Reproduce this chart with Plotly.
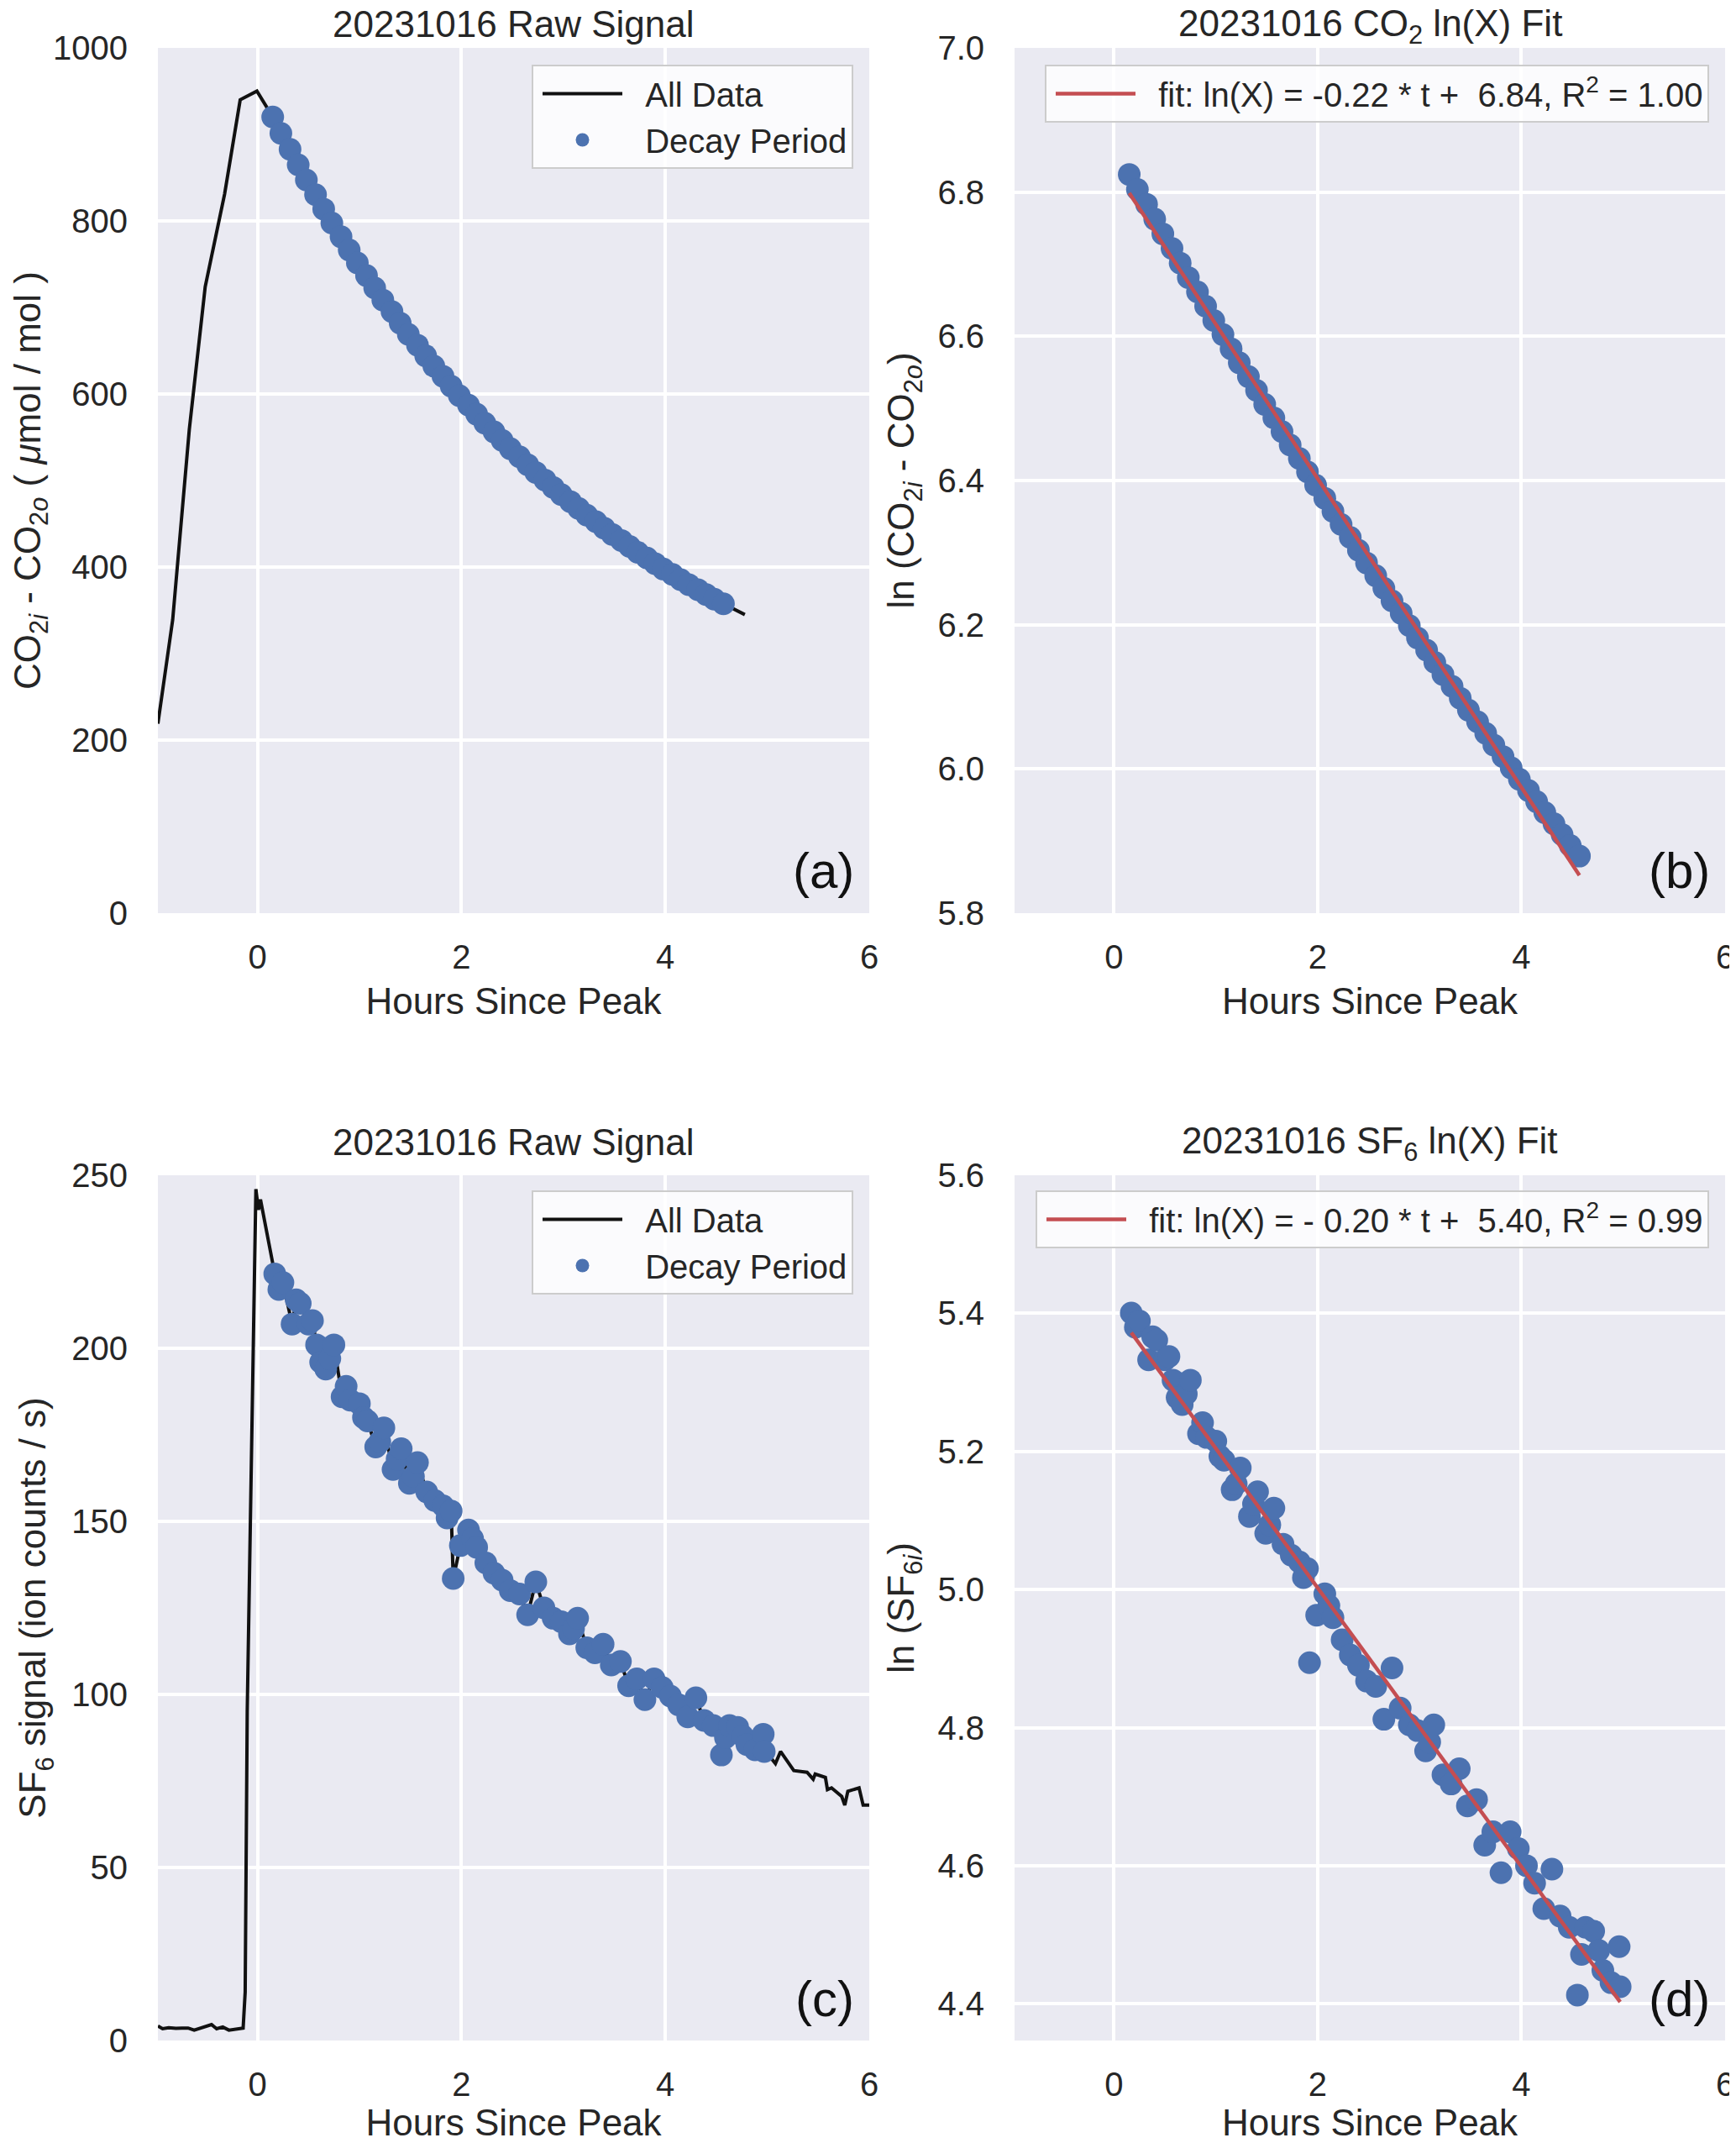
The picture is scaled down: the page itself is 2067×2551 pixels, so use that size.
import numpy as np
import plotly.graph_objects as go

# ---- CO2 (panels a, b) ----
co2_pre_t = [-0.976, -0.831, -0.668, -0.512, -0.322, -0.169, -0.005, 0.07]
co2_pre = [219, 339, 559, 724, 831, 940, 950, 936]

co2_decay_t = [0.15, 0.23, 0.32, 0.40, 0.48, 0.57, 0.65, 0.73, 0.82, 0.90,
               0.98, 1.07, 1.15, 1.23, 1.32, 1.40, 1.48, 1.57, 1.65, 1.73,
               1.82, 1.90, 1.98, 2.07, 2.15, 2.23, 2.32, 2.40, 2.48, 2.57,
               2.65, 2.73, 2.82, 2.90, 2.98, 3.07, 3.15, 3.23, 3.32, 3.40,
               3.48, 3.57, 3.65, 3.73, 3.82, 3.90, 3.98, 4.07, 4.15, 4.23,
               4.32, 4.40, 4.48, 4.57]
co2_decay = [920.1, 901.2, 882.8, 864.8, 847.3, 830.3, 813.7, 797.5, 781.7, 766.4,
             751.4, 736.8, 722.5, 708.6, 695.1, 681.9, 668.9, 656.4, 644.1, 632.2,
             620.5, 609.1, 598.0, 587.2, 576.6, 566.3, 556.2, 546.4, 536.8, 527.4,
             518.3, 509.3, 500.6, 492.1, 483.8, 475.6, 467.7, 459.9, 452.4, 445.0,
             437.7, 430.7, 423.8, 417.0, 410.4, 404.0, 397.7, 391.5, 385.5, 379.7,
             373.9, 368.3, 362.8, 357.5]

co2_tail_t = [4.65, 4.78]
co2_tail = [352, 345]

# ---- SF6 (panels c, d) ----
sf6_pre_t = [-0.976, -0.93, -0.87, -0.80, -0.74, -0.68, -0.62, -0.56, -0.50, -0.45,
             -0.40, -0.34, -0.28, -0.22, -0.17, -0.14, -0.12, -0.10, -0.015, 0.01, 0.03]
sf6_pre = [4.2, 3.4, 3.7, 3.5, 3.6, 3.6, 3.0, 3.5, 4.2, 4.6,
           3.4, 3.9, 3.0, 3.3, 3.5, 3.6, 14, 95, 246, 240, 243]

sf6_decay_t = [0.17, 0.21, 0.25, 0.34, 0.38, 0.42, 0.50, 0.54, 0.58, 0.62,
               0.67, 0.71, 0.75, 0.83, 0.87, 0.91, 1.00, 1.04, 1.08, 1.16,
               1.20, 1.24, 1.33, 1.37, 1.41, 1.49, 1.53, 1.57, 1.66, 1.74,
               1.82, 1.86, 1.90, 1.92, 1.99, 2.07, 2.11, 2.15, 2.24, 2.32,
               2.40, 2.48, 2.57, 2.65, 2.73, 2.81, 2.90, 2.98, 3.06, 3.10,
               3.14, 3.23, 3.31, 3.39, 3.47, 3.56, 3.64, 3.72, 3.80, 3.89,
               3.97, 4.05, 4.13, 4.22, 4.30, 4.38, 4.47, 4.55, 4.59, 4.63,
               4.71, 4.76, 4.80, 4.88, 4.96, 4.97]
sf6_decay = [221.5, 217, 219, 207, 214, 213, 207, 208, 201, 196,
             194, 197, 201, 186, 189, 185, 184, 180, 179, 171.5,
             173, 177, 165, 168, 171, 161, 163, 167, 158.5, 156,
             154.5, 151, 153, 133.5, 143, 147.5, 145, 142.5, 138, 135,
             133, 130, 129, 123, 132.5, 125, 122, 121, 117.5, 119,
             122, 113.5, 112, 114.5, 108.5, 109.5, 102.5, 104.5, 98.5, 104.5,
             102, 99.5, 97, 93.5, 99, 92.5, 91, 82.5, 87.5, 91,
             90.5, 88, 85.5, 84, 88.5, 83.5]

sf6_tail_t = [5.04, 5.08, 5.13, 5.26, 5.39, 5.45, 5.47, 5.57, 5.59, 5.63,
              5.73, 5.76, 5.79, 5.90, 5.94, 6.0]
sf6_tail = [81.5, 80, 83.5, 78, 77.5, 75.5, 77, 76, 72.5, 73,
            70.5, 68, 72, 73, 68, 68]

BLUE = "#4C72B0"
RED = "#C44E52"
INK = "#262626"
FONT = "Liberation Sans, Arial, sans-serif"
MS = 27  # marker size
SP = "\u00a0\u00a0"  # gap between legend symbol and text

fig = go.Figure()

# (a) raw CO2
fig.add_trace(go.Scatter(x=co2_pre_t + co2_decay_t + co2_tail_t,
                         y=co2_pre + co2_decay + co2_tail,
                         mode="lines", line=dict(color="#111111", width=4),
                         name=SP + "All Data", xaxis="x", yaxis="y", legend="legend"))
fig.add_trace(go.Scatter(x=co2_decay_t, y=co2_decay, mode="markers",
                         marker=dict(color=BLUE, size=MS),
                         name=SP + "Decay Period", xaxis="x", yaxis="y", legend="legend"))

# (b) ln CO2 fit
ln_co2 = np.log(co2_decay)
m, b = np.polyfit(co2_decay_t, ln_co2, 1)
fx = np.array([co2_decay_t[0], co2_decay_t[-1]])
fig.add_trace(go.Scatter(x=co2_decay_t, y=ln_co2, mode="markers",
                         marker=dict(color=BLUE, size=MS), showlegend=False,
                         xaxis="x2", yaxis="y2"))
fig.add_trace(go.Scatter(x=fx, y=m * fx + b, mode="lines",
                         line=dict(color=RED, width=4.5),
                         name=SP + "fit: ln(X) = -0.22 * t +\u00a0\u00a06.84, R<sup>2</sup> = 1.00",
                         xaxis="x2", yaxis="y2", legend="legend2"))

# (c) raw SF6
fig.add_trace(go.Scatter(x=sf6_pre_t + sf6_decay_t + sf6_tail_t,
                         y=sf6_pre + sf6_decay + sf6_tail,
                         mode="lines", line=dict(color="#111111", width=4),
                         name=SP + "All Data", xaxis="x3", yaxis="y3", legend="legend3"))
fig.add_trace(go.Scatter(x=sf6_decay_t, y=sf6_decay, mode="markers",
                         marker=dict(color=BLUE, size=MS),
                         name=SP + "Decay Period", xaxis="x3", yaxis="y3", legend="legend3"))

# (d) ln SF6 fit
ln_sf6 = np.log(sf6_decay)
m2, b2 = np.polyfit(sf6_decay_t, ln_sf6, 1)
fx2 = np.array([sf6_decay_t[0], sf6_decay_t[-1]])
fig.add_trace(go.Scatter(x=sf6_decay_t, y=ln_sf6, mode="markers",
                         marker=dict(color=BLUE, size=MS), showlegend=False,
                         xaxis="x4", yaxis="y4"))
fig.add_trace(go.Scatter(x=fx2, y=m2 * fx2 + b2, mode="lines",
                         line=dict(color=RED, width=4.5),
                         name=SP + "fit: ln(X) = - 0.20 * t +\u00a0\u00a05.40, R<sup>2</sup> = 0.99",
                         xaxis="x4", yaxis="y4", legend="legend4"))

ax = dict(showgrid=True, gridcolor="white", gridwidth=3.5, zeroline=False,
          showline=False, ticks="", tickfont=dict(size=40, color=INK),
          automargin=False, title_font=dict(size=44, color=INK))

# page has an 8px body margin, so the figure is 16px smaller and shifted
W, H = 2059, 2543
xl = [180 / W, 1027 / W]
xr = [1200 / W, 2046 / W]
yt = [1 - 1079 / H, 1 - 49 / H]
yb = [1 - 2421 / H, 1 - 1391 / H]

xkw = dict(ax, range=[-0.976, 6], tick0=0, dtick=2, ticklabelstandoff=25,
           title=dict(text="Hours Since Peak", standoff=16))
ykw = dict(ax, ticklabelstandoff=35)

ytitle_a = "CO<sub>2<i>i</i></sub> - CO<sub>2<i>o</i></sub> ( <i>\u03bc</i>mol / mol )"
ytitle_b = "ln (CO<sub>2<i>i</i></sub> - CO<sub>2<i>o</i></sub>)"
ytitle_c = "SF<sub>6</sub> signal (ion counts / s)"
ytitle_d = "ln (SF<sub>6<i>i</i></sub>)"

fig.update_layout(
    width=W, height=H,
    margin=dict(l=0, r=0, t=0, b=0),
    paper_bgcolor="white", plot_bgcolor="#EAEAF2",
    font=dict(family=FONT, color=INK, size=40),
    xaxis=dict(xkw, domain=xl, anchor="y"),
    yaxis=dict(ykw, domain=yt, anchor="x", range=[0, 1000], dtick=200,
               title=dict(text=ytitle_a, standoff=20)),
    xaxis2=dict(xkw, domain=xr, anchor="y2"),
    yaxis2=dict(ykw, domain=yt, anchor="x2", range=[5.8, 7.0], dtick=0.2,
                tickformat=".1f", title=dict(text=ytitle_b, standoff=13)),
    xaxis3=dict(xkw, domain=xl, anchor="y3"),
    yaxis3=dict(ykw, domain=yb, anchor="x3", range=[0, 250], dtick=50,
                title=dict(text=ytitle_c, standoff=16)),
    xaxis4=dict(xkw, domain=xr, anchor="y4"),
    yaxis4=dict(ykw, domain=yb, anchor="x4", range=[4.347, 5.6], tick0=4.4, dtick=0.2,
                tickformat=".1f", title=dict(text=ytitle_d, standoff=13)),
)

leg = dict(bgcolor="rgba(255,255,255,0.8)", bordercolor="#CCCCCC", borderwidth=2,
           font=dict(size=40, color=INK), xanchor="right", yanchor="top",
           itemwidth=95, indentation=6)
fig.update_layout(
    legend=dict(leg, x=1008 / W, y=1 - 69 / H),
    legend2=dict(leg, x=2027 / W, y=1 - 69 / H),
    legend3=dict(leg, x=1008 / W, y=1 - 1409 / H),
    legend4=dict(leg, x=2027 / W, y=1 - 1409 / H),
)

titles = ["20231016 Raw Signal", "20231016 CO<sub>2</sub> ln(X) Fit",
          "20231016 Raw Signal", "20231016 SF<sub>6</sub> ln(X) Fit"]
title_shift = [29, 26, 40, 38]
letters = ["(a)", "(b)", "(c)", "(d)"]
for i, (ttl, let) in enumerate(zip(titles, letters)):
    sfx = "" if i == 0 else str(i + 1)
    fig.add_annotation(text=ttl, xref=f"x{sfx} domain", yref=f"y{sfx} domain",
                       x=0.5, y=1, yanchor="middle", yshift=title_shift[i],
                       showarrow=False, font=dict(size=44, color=INK))
    fig.add_annotation(text=let, xref=f"x{sfx} domain", yref=f"y{sfx} domain",
                       x=1, y=0, xanchor="right", yanchor="middle", xshift=-16, yshift=50,
                       showarrow=False, font=dict(size=60, color="#111111"))

fig.write_html("out.html")
